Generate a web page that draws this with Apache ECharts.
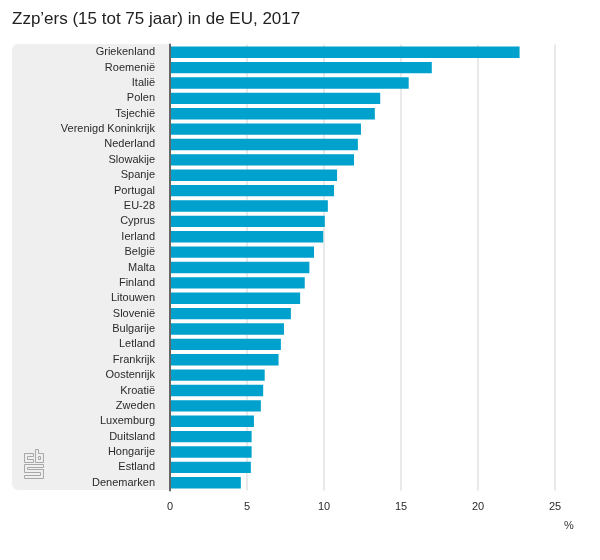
<!DOCTYPE html>
<html>
<head>
<meta charset="utf-8">
<script src="https://cdn.jsdelivr.net/npm/echarts@6/dist/echarts.min.js"></script>
<style>
html, body { margin: 0; padding: 0; background: #fff; }
#chart { width: 600px; height: 560px; }
</style>
</head>
<body>
<div id="chart"></div>
<script>
const countries = ["Griekenland", "Roemenië", "Italië", "Polen", "Tsjechië", "Verenigd Koninkrijk", "Nederland", "Slowakije", "Spanje", "Portugal", "EU-28", "Cyprus", "Ierland", "België", "Malta", "Finland", "Litouwen", "Slovenië", "Bulgarije", "Letland", "Frankrijk", "Oostenrijk", "Kroatië", "Zweden", "Luxemburg", "Duitsland", "Hongarije", "Estland", "Denemarken"];
const shares = [22.7, 17.0, 15.5, 13.65, 13.3, 12.4, 12.2, 11.95, 10.85, 10.65, 10.25, 10.05, 9.95, 9.35, 9.05, 8.75, 8.45, 7.85, 7.4, 7.2, 7.05, 6.15, 6.05, 5.9, 5.45, 5.3, 5.3, 5.25, 4.6];

const fontFamily = '"Liberation Sans", Arial, sans-serif';
const logoStyle = { stroke: "#a8a8a8", lineWidth: 1, fill: null };

var myChart = echarts.init(document.getElementById("chart"), null, { renderer: "canvas" });
myChart.setOption({
	animation: false,
	backgroundColor: "#fff",
	title: {
		text: "Zzp’ers (15 tot 75 jaar) in de EU, 2017",
		left: 7,
		top: 6,
		textStyle: { fontFamily: fontFamily, fontSize: 17, fontWeight: "normal", color: "#222" },
	},
	grid: { left: 170, top: 44.5, width: 385, height: 446, containLabel: false },
	xAxis: {
		type: "value",
		min: 0,
		max: 25,
		interval: 5,
		axisLine: { show: false },
		axisTick: { show: false },
		axisLabel: { fontFamily: fontFamily, fontSize: 11, color: "#2a2a2a", margin: 11 },
		splitLine: { show: true, lineStyle: { color: "#e2e2e2", width: 1.5 } },
	},
	yAxis: {
		type: "category",
		inverse: true,
		data: countries,
		axisLine: { show: true, lineStyle: { color: "#666", width: 2 } },
		axisTick: { show: false },
		axisLabel: { fontFamily: fontFamily, fontSize: 11, color: "#2a2a2a", margin: 15, padding: [4, 0, 0, 0] },
		z: 5,
	},
	series: [
		{
			type: "bar",
			data: shares,
			barCategoryGap: "26%",
			itemStyle: { color: "#00a1cd" },
			z: 3,
		},
	],
	graphic: [
		{
			type: "rect",
			z: -1,
			shape: { x: 12, y: 44, width: 158, height: 446, r: [6, 0, 0, 6] },
			style: { fill: "#efefef" },
		},
		{
			type: "text",
			z: 1,
			x: 569,
			y: 526,
			style: { text: "%", font: '11px "Liberation Sans", Arial, sans-serif', fill: "#333", align: "center", verticalAlign: "middle" },
		},
		// cbs logo
		{ type: "polygon", z: 1, shape: { points: [[24.5, 453.5], [33.5, 453.5], [33.5, 456.5], [27.5, 456.5], [27.5, 459.5], [33.5, 459.5], [33.5, 462.5], [24.5, 462.5]] }, style: logoStyle },
		{ type: "polygon", z: 1, shape: { points: [[35.5, 449.5], [38.5, 449.5], [38.5, 453.5], [43.5, 453.5], [43.5, 462.5], [35.5, 462.5]] }, style: logoStyle },
		{ type: "polygon", z: 1, shape: { points: [[38.5, 456.5], [40.5, 456.5], [40.5, 459.5], [38.5, 459.5]] }, style: logoStyle },
		{ type: "polygon", z: 1, shape: { points: [[24.5, 464.5], [43.5, 464.5], [43.5, 467.5], [27.5, 467.5], [27.5, 469.5], [43.5, 469.5], [43.5, 478.5], [24.5, 478.5], [24.5, 475.5], [40.5, 475.5], [40.5, 472.5], [24.5, 472.5]] }, style: logoStyle },
	],
});
</script>
</body>
</html>
